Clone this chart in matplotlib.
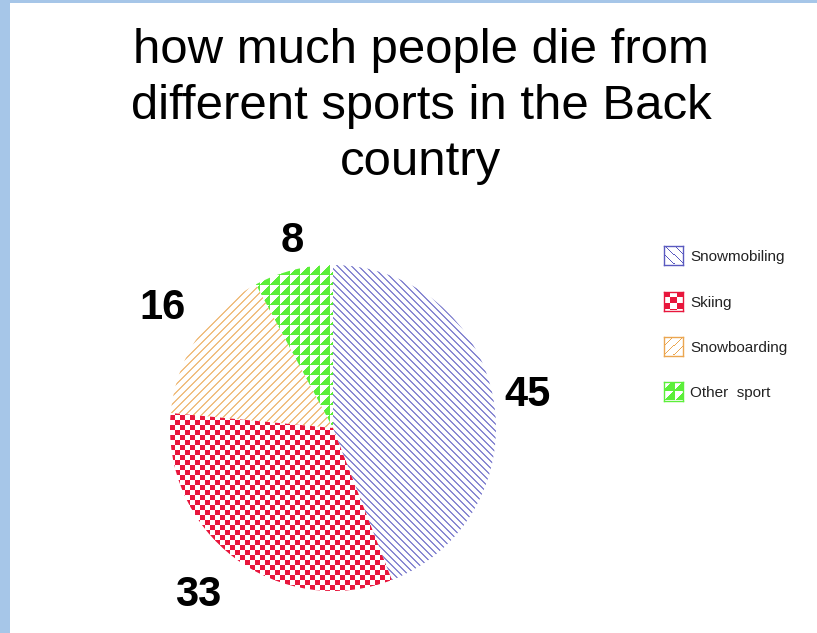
import numpy as np
import matplotlib
matplotlib.use("Agg")
import matplotlib.pyplot as plt
from matplotlib.patches import Rectangle
from matplotlib.collections import LineCollection

plt.rcParams['font.family'] = ['Liberation Sans', 'DejaVu Sans']

# ---- data ----
categories = ["Snowmobiling", "Skiing", "Snowboarding", "Other  sport"]
values = [45, 33, 16, 8]
labels = ["45", "33", "16", "8"]
title = "how much people die from\ndifferent sports in the Back\ncountry"

# ---- styles ----
BLUE = '#5a5ac0'
RED = '#e8163c'
ORANGE = '#eba650'
GREEN = '#5cef3a'
BORDER = '#a6c6e8'

W, H = 817, 633
fig = plt.figure(figsize=(W / 100, H / 100), dpi=100)
fig.patch.set_facecolor('white')

# light blue frame strips
fig.patches.append(Rectangle((0, 0), 10 / W, 1, transform=fig.transFigure,
                             facecolor=BORDER, edgecolor='none', zorder=0))
fig.patches.append(Rectangle((0, 1 - 3 / H), 1, 3 / H, transform=fig.transFigure,
                             facecolor=BORDER, edgecolor='none', zorder=0))


def make_pattern(kind, n, cell, color):
    rgb = np.array(matplotlib.colors.to_rgb(color))
    i, j = np.indices((n, n))
    if kind == 'checker':
        mask = ((i // cell + j // cell) % 2) == 0
    elif kind == 'tri':
        mask = ((j % cell) + (i % cell)) >= cell - 1
    elif kind == 'back':      # "\" lines
        mask = ((i - j) % cell) == 0
    else:                     # "/" lines
        mask = ((i + j) % cell) == 0
    img = np.ones((n, n, 3))
    img[mask] = rgb
    return img


def line_hatch(direction, step, lo=-1.2, hi=1.2):
    cs = np.arange(-2.5, 2.5, step)
    segs = []
    for c in cs:
        if direction == 'back':   # y = -x + c
            segs.append([(lo, -lo + c), (hi, -hi + c)])
        else:                     # y = x + c
            segs.append([(lo, lo + c), (hi, hi + c)])
    return segs


# ---- pie ----
cx, cy, R = 333, 428, 163
ax = fig.add_axes([(cx - R) / W, (H - cy - R) / H, 2 * R / W, 2 * R / H])
wedges, texts = ax.pie(values, labels=labels, startangle=90, counterclock=False,
                       labeldistance=1.21,
                       wedgeprops=dict(linewidth=0),
                       textprops=dict(fontsize=30, fontweight='bold', color='black'))

styles = [(BLUE, 'back', 7, 9), (RED, 'checker', 5, 6),
          (ORANGE, 'fwd', 8, 9), (GREEN, 'tri', 10, 10)]
n = 2 * R
for w, (col, pat, cell, _) in zip(wedges, styles):
    w.set_facecolor('white')
    w.set_edgecolor('none')
    if pat in ('back', 'fwd'):
        lc = LineCollection(line_hatch(pat, cell / R), colors=col,
                            linewidths=0.75, zorder=2)
        ax.add_collection(lc)
        lc.set_clip_path(w)
    else:
        img = make_pattern(pat, n, cell, col)
        im = ax.imshow(img, extent=(-1, 1, -1, 1), interpolation='nearest', zorder=1)
        im.set_clip_path(w)

ax.set_xlim(-1, 1)
ax.set_ylim(-1, 1)
ax.set_aspect('equal')
ax.axis('off')

# fine-tune label placement (pixels)
offsets = [(1, 3), (-16, 10), (-6, -11), (7, 4)]
for t, (dx, dy) in zip(texts, offsets):
    x, y = t.get_position()
    t.set_position((x + dx / R, y - dy / R))
    t.set_ha('center')
    t.set_va('center')

# ---- title ----
fig.text(421 / W, 1 - 28 / H, title, ha='center', va='top', fontsize=35.4,
         linespacing=1.31, color='black')

# ---- legend (drawn manually) ----
leg_y = [255, 301, 346, 391]
sq = 19
lx = 664
for (col, pat, _, lcell), name, yc in zip(styles, categories, leg_y):
    lax = fig.add_axes([lx / W, (H - yc - sq / 2) / H, sq / W, sq / H])
    lax.set_xticks([])
    lax.set_yticks([])
    for s in lax.spines.values():
        s.set_edgecolor(col)
        s.set_linewidth(1.0)
    img = make_pattern(pat, sq, lcell, col)
    lax.imshow(img, extent=(0, 1, 0, 1), interpolation='nearest', aspect='auto')
    lax.set_xlim(0, 1)
    lax.set_ylim(0, 1)
    fig.text((lx + sq + 7) / W, 1 - (yc + 2) / H, name, ha='left', va='center',
             fontsize=11, color='#222222')

fig.savefig('out.png', dpi=100)
